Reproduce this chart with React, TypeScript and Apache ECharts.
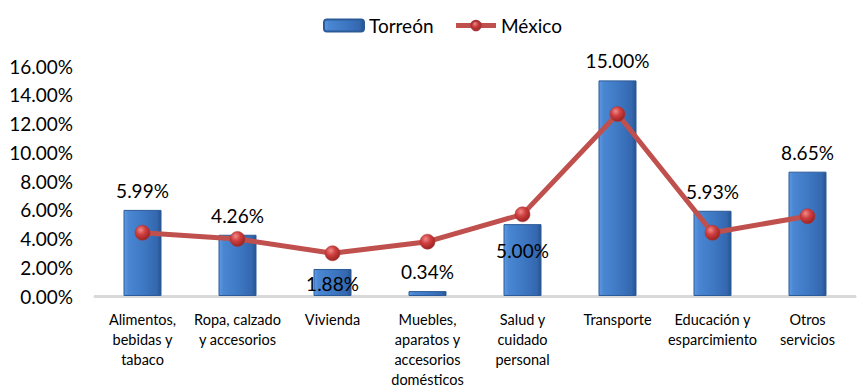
import React, { useEffect, useRef } from "react";
import * as echarts from "echarts";

const categories = [
  "Alimentos,\nbebidas y\ntabaco",
  "Ropa, calzado\ny accesorios",
  "Vivienda",
  "Muebles,\naparatos y\naccesorios\ndomésticos",
  "Salud y\ncuidado\npersonal",
  "Transporte",
  "Educación y\nesparcimiento",
  "Otros\nservicios",
];
const torreon = [5.99, 4.26, 1.88, 0.34, 5.0, 15.0, 5.93, 8.65];
const mexico = [4.4, 3.97, 2.97, 3.78, 5.68, 12.66, 4.4, 5.55];
const yTicks = { min: 0, max: 16, interval: 2 };

const FONT = "Lato";

export default function App() {
  const ref = useRef<HTMLDivElement>(null);
  useEffect(() => {
    if (!ref.current) return;
    const chart = echarts.init(ref.current, undefined, { renderer: "svg" });
    // label nudges for labels moved inside bars (indices 2 and 4)
    const labelShift: Record<number, number> = { 2: 34, 4: 46 };
    const barGradient = new echarts.graphic.LinearGradient(0, 0, 1, 0, [
      { offset: 0, color: "#5e9be3" },
      { offset: 0.12, color: "#4a86d2" },
      { offset: 0.5, color: "#3f79c4" },
      { offset: 0.88, color: "#3468b0" },
      { offset: 1, color: "#27548f" },
    ]);
    const ball = new echarts.graphic.RadialGradient(0.38, 0.32, 0.7, [
      { offset: 0, color: "#f08a8a" },
      { offset: 0.45, color: "#cf3f3f" },
      { offset: 1, color: "#9a2222" },
    ]);
    chart.setOption({
      animation: false,
      textStyle: { fontFamily: FONT },
      legend: {
        top: 11,
        left: 318,
        itemWidth: 40,
        itemHeight: 12,
        itemGap: 20,
        textStyle: { fontSize: 19, color: "#000", fontFamily: FONT },
        data: [
          { name: "Torreón" },
          { name: "México", lineStyle: { width: 5, color: "#c0504d" } },
        ],
      },
      grid: { left: 95, right: 10, top: 66, bottom: 94 },
      xAxis: {
        type: "category",
        data: categories,
        axisLine: { lineStyle: { color: "#d9d9d9", width: 3 } },
        axisTick: { show: false },
        axisLabel: {
          interval: 0,
          margin: 13,
          color: "#000",
          fontSize: 14.5,
          lineHeight: 20,
          fontFamily: FONT,
        },
      },
      yAxis: {
        type: "value",
        min: yTicks.min,
        max: yTicks.max,
        interval: yTicks.interval,
        splitLine: { show: false },
        axisLine: { show: false },
        axisTick: { show: false },
        axisLabel: {
          margin: 22,
          color: "#000",
          fontSize: 19,
          fontFamily: FONT,
          formatter: (v: number) => v.toFixed(2) + "%",
        },
      },
      series: [
        {
          name: "Torreón",
          type: "bar",
          barWidth: "40%",
          z: 2,
          itemStyle: { color: barGradient, borderColor: "#2b5a98", borderWidth: 1 },
          data: torreon.map((v, i) => ({
            value: v,
            label: labelShift[i] ? { offset: [0, labelShift[i]] } : undefined,
          })),
          label: {
            show: true,
            position: "top",
            distance: 10,
            color: "#000",
            fontSize: 19,
            fontFamily: FONT,
            formatter: (p: any) => Number(p.value).toFixed(2) + "%",
          },
        },
        {
          name: "México",
          type: "line",
          z: 3,
          data: mexico,
          symbol: "circle",
          symbolSize: 15,
          lineStyle: { color: "#c0504d", width: 5 },
          itemStyle: { color: ball, borderColor: "#a83535", borderWidth: 0.5 },
        },
      ],
    });
    return () => chart.dispose();
  }, []);
  return (
    <div
      ref={ref}
      style={{ position: "fixed", left: 0, top: 0, width: 865, height: 390, background: "#fff" }}
    />
  );
}
